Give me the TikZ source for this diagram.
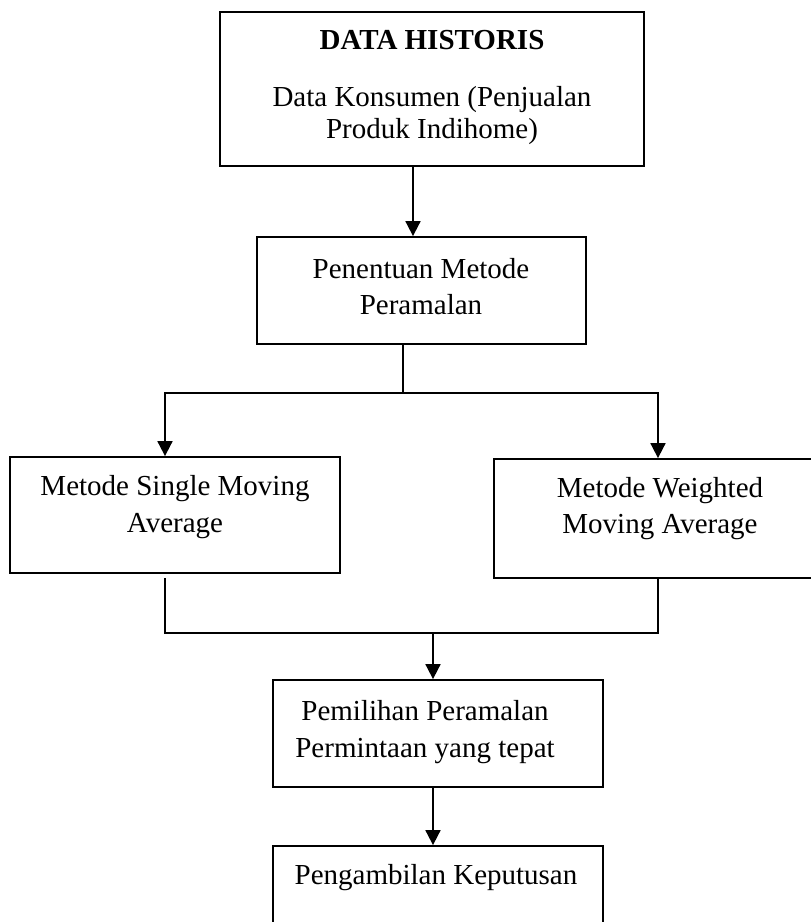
\documentclass[tikz,border=0pt]{standalone}
\usepackage{fontspec}
\setmainfont{Liberation Serif}
\usepackage{tikz}
\usetikzlibrary{arrows.meta}
\usetikzlibrary{calc}

\begin{document}
\begin{tikzpicture}[x=1pt,y=-1pt,>/.tip={Triangle[width=15pt,length=15pt]},
	box/.style={draw,line width=1.8pt,inner sep=0pt},
	txt/.style={anchor=base,inner sep=0pt,font=\fontsize{29}{35}\selectfont},
	line width=1.8pt]
	\useasboundingbox (0,0) rectangle (811,922);
	% boxes
	\draw (432,89) node (hist) [box,minimum width=424pt,minimum height=154pt] {};
	\node (histA) [txt] at (432,49) {\bfseries DATA HISTORIS};
	\node (histB) [txt] at (432,106) {Data Konsumen (Penjualan};
	\node (histC) [txt] at (432,138) {Produk Indihome)};
	\draw (421.5,290.5) node (pen) [box,minimum width=329pt,minimum height=107pt] {};
	\node (penA) [txt] at (421,278) {Penentuan Metode};
	\node (penB) [txt] at (421,314) {Peramalan};
	\draw (175,515) node (single) [box,minimum width=330pt,minimum height=116pt] {};
	\node (singleA) [txt] at (175,495) {Metode Single Moving};
	\node (singleB) [txt] at (175,532) {Average};
	\draw (653,518.5) node (weight) [box,minimum width=318pt,minimum height=119pt] {};
	\node (weightA) [txt] at (660,497) {Metode Weighted};
	\node (weightB) [txt] at (660,533) {Moving Average};
	\draw (438,733.5) node (pilih) [box,minimum width=330pt,minimum height=107pt] {};
	\node (pilihA) [txt] at (425,720) {Pemilihan Peramalan};
	\node (pilihB) [txt] at (425,757) {Permintaan yang tepat};
	\draw (438,898) node (ambil) [box,minimum width=330pt,minimum height=104pt] {};
	\node (ambilA) [txt] at (436,884) {Pengambilan Keputusan};
	% connectors
	\coordinate (xA) at (413,0);
	\coordinate (fork) at (403,393);
	\coordinate (xL) at (165,0);
	\coordinate (xR) at (658,0);
	\coordinate (botY) at (0,578);
	\coordinate (join) at (433,633);
	\draw[->] (hist.south -| xA) -- (pen.north -| xA);
	\draw (pen.south -| fork) -- (fork);
	\draw[->] (fork) -| (single.north -| xL);
	\draw[->] (fork) -| (weight.north -| xR);
	\draw (xL |- botY) |- (join);
	\draw (xR |- botY) |- (join);
	\draw[->] (join) -- (pilih.north -| join);
	\draw[->] (pilih.south -| join) -- (ambil.north -| join);
\end{tikzpicture}
\end{document}
